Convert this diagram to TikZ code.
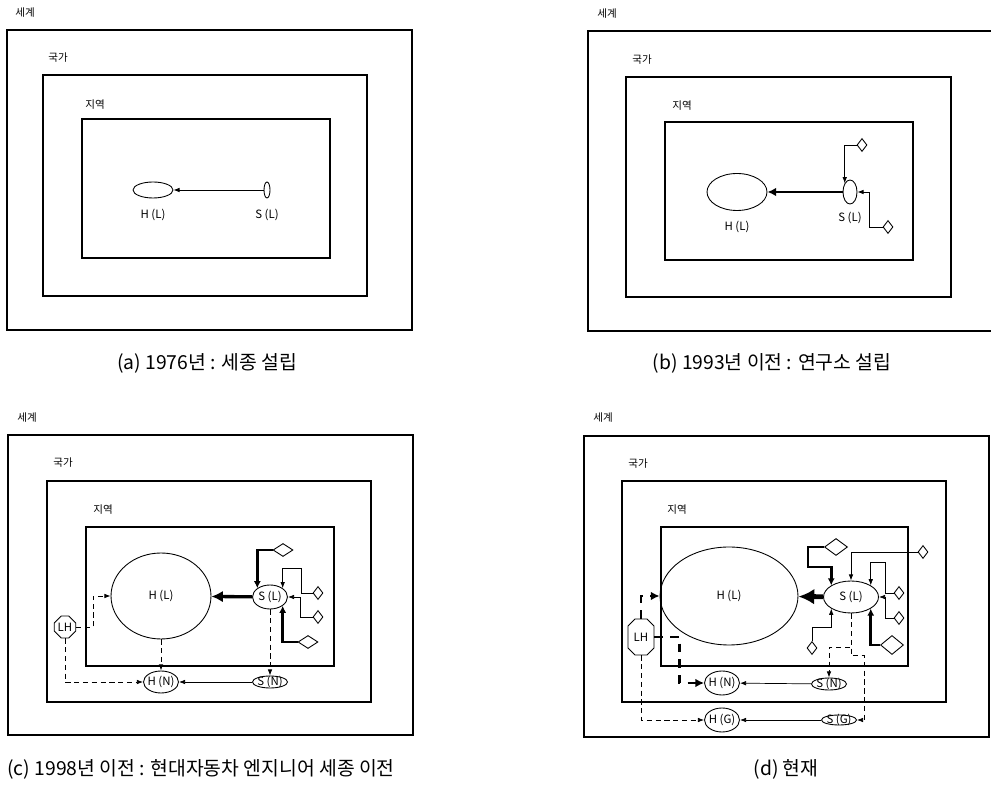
\documentclass[tikz,border=0pt]{standalone}
\usepackage{fontspec}
\newfontfamily\krfont{Noto Sans CJK KR}
\usepackage{tikz}
\usetikzlibrary{shapes.geometric,shapes.misc,arrows.meta,positioning}

\begin{document}
\begin{tikzpicture}[x=0.02cm, y=-0.02cm,
    box/.style={line width=0.6pt},
    area/.style={font=\krfont\fontsize{6}{7}\selectfont, anchor=west, inner sep=0pt},
    caption/.style={font=\krfont\fontsize{11}{13}\selectfont, inner sep=0pt},
    tag/.style={font=\krfont\fontsize{6.5}{7}\selectfont, inner sep=0pt},
    blob/.style 2 args={ellipse, draw, line width=0.5pt, inner sep=0pt, minimum width=#1cm, minimum height=#2cm},
    actor/.style n args={3}{blob={#1}{#2}, label={[tag]center:#3}},
    gem/.style 2 args={diamond, draw, line width=0.5pt, inner sep=0pt, minimum width=#1cm, minimum height=#2cm},
    lhbox/.style 2 args={chamfered rectangle, chamfered rectangle xsep=2pt, chamfered rectangle ysep=2pt, draw, line width=0.5pt, inner sep=0pt, minimum width=#1cm, minimum height=#2cm, tag},
    lnk/.style={-{Latex[length=3.5pt,width=2.6pt]}, line width=0.4pt},
    fat/.style={-{Latex[length=4pt,width=4pt]}, line width=1.5pt},
    thrust/.style 2 args={-{Latex[length=#2pt,width=#2pt]}, line width=#1pt},
    tie/.style={lnk, densely dashed},
    bigtie/.style={-{Latex[length=5pt,width=5pt]}, line width=1.4pt, dash pattern=on 5pt off 4pt}
]
\useasboundingbox (0,0) rectangle (991,786);

% (a) 1976
\draw[box] (7,30) rectangle (412,330);
\draw[box] (43,75) rectangle (367,296);
\draw[box] (82,119) rectangle (330,258);
\node[area] (worldA) at (15,13) {세계};
\node[area] (natA) at (48,58) {국가};
\node[area] (regA) at (85,105) {지역};
\node[blob={0.8}{0.32}] (HLa) at (153,190) {};
\node[blob={0.12}{0.32}] (SLa) at (267,190) {};
\node[tag, below=0.2cm of HLa] (HLaTag) {H (L)};
\node[tag, below=0.2cm of SLa] (SLaTag) {S (L)};
\draw[lnk] (SLa) -- (HLa);
\node[caption] (capA) at (207,363) {(a) 1976년 : 세종 설립};

% (b) before 1993
\draw[box] (991,31) -- (588,31) -- (588,331) -- (991,331);
\draw[box] (626,77) rectangle (951,297);
\draw[box] (665,122) rectangle (913,260);
\node[area] (worldB) at (597,14) {세계};
\node[area] (natB) at (632,60) {국가};
\node[area] (regB) at (672,106) {지역};
\node[blob={1.2}{0.74}] (HLb) at (737,192) {};
\node[blob={0.28}{0.48}] (SLb) at (850,192) {};
\node[tag, below=0.2cm of HLb] (HLbTag) {H (L)};
\node[tag, below=0.14cm of SLb] (SLbTag) {S (L)};
\node[gem={0.2}{0.26}] (Db1) at (862,145) {};
\node[gem={0.2}{0.26}] (Db2) at (888,227) {};
\draw[thrust={1.2}{5}] (SLb) -- (HLb);
\draw[lnk] (Db1.west) -| (SLb.north west);
\draw[lnk] (Db2.west) -- ++(-13,0) |- (SLb.east);
\node[caption] (capB) at (772,363) {(b) 1993년 이전 : 연구소 설립};

% (c) before 1998
\draw[box] (8,435) rectangle (413,735);
\draw[box] (47,481) rectangle (371,702);
\draw[box] (86,527) rectangle (334,666);
\node[area] (worldC) at (17,418) {세계};
\node[area] (natC) at (53,463) {국가};
\node[area] (regC) at (93,510) {지역};
\node[actor={2.0}{1.72}{H (L)}] (HLc) at (161,596) {};
\node[actor={0.7}{0.48}{S (L)}] (SLc) at (270,597) {};
\node[actor={0.7}{0.44}{H (N)}] (HNc) at (161,682) {};
\node[actor={0.7}{0.24}{S (N)}] (SNc) at (270,682) {};
\node[lhbox={0.42}{0.44}] (LHc) at (65,627) {LH};
\node[gem={0.4}{0.26}] (Dc1) at (283,550) {};
\node[gem={0.2}{0.26}] (Dc2) at (318,593) {};
\node[gem={0.2}{0.26}] (Dc3) at (318,617) {};
\node[gem={0.4}{0.26}] (Dc4) at (308,642) {};
\draw[thrust={1.9}{6.5}] (SLc) -- (HLc);
\draw[fat] (Dc1.west) -| (SLc.north west);
\draw[lnk] (Dc2.west) -- ++(-11,0) -- ++(0,-25) -| (SLc.north east);
\draw[lnk] (Dc3.west) -- ++(-12,0) |- (SLc.east);
\draw[fat] (Dc4.west) -| (SLc.south east);
\draw[tie] (LHc.east) -- ++(17,0) |- (HLc.west);
\draw[tie] (LHc.south) |- (HNc.west);
\draw[tie] (HLc) -- (HNc);
\draw[tie] (SLc) -- (SNc);
\draw[lnk] (SNc) -- (HNc);
\node[caption, anchor=west] (capC) at (7,769) {(c) 1998년 이전 : 현대자동차 엔지니어 세종 이전};

% (d) today
\draw[box] (584,436) rectangle (989,737);
\draw[box] (622,481) rectangle (946,702);
\draw[box] (661,527) rectangle (908,666);
\node[area] (worldD) at (593,418) {세계};
\node[area] (natD) at (628,464) {국가};
\node[area] (regD) at (667,510) {지역};
\node[actor={2.76}{1.96}{H (L)}] (HLd) at (729,596) {};
\node[actor={1.1}{0.64}{S (L)}] (SLd) at (851,597) {};
\node[actor={0.7}{0.48}{H (N)}] (HNd) at (722,683) {};
\node[actor={0.7}{0.24}{S (N)}] (SNd) at (829,684) {};
\node[actor={0.7}{0.48}{H (G)}] (HGd) at (722,720) {};
\node[actor={0.7}{0.2}{S (G)}] (SGd) at (839,720) {};
\node[lhbox={0.52}{0.72}] (LHd) at (641,637) {LH};
\node[gem={0.46}{0.34}] (Dd1) at (836,547) {};
\node[gem={0.2}{0.26}] (Dd2) at (923,552) {};
\node[gem={0.2}{0.26}] (Dd3) at (899,593) {};
\node[gem={0.2}{0.26}] (Dd4) at (899,618) {};
\node[gem={0.46}{0.38}] (Dd5) at (892,645) {};
\node[gem={0.2}{0.26}] (Dd6) at (812,648) {};
\draw[thrust={2.8}{9}] (SLd) -- (HLd);
\draw[fat] (Dd1.west) -- ++(-16,0) -- ++(0,20) -| (SLd.north west);
\draw[lnk] (Dd2.west) -| (SLd.north);
\draw[lnk] (Dd3.west) -- ++(-8,0) -- ++(0,-31) -| (SLd.north east);
\draw[lnk] (Dd4.west) -- ++(-8,0) |- (SLd.east);
\draw[fat] (Dd5.west) -| (SLd.south east);
\draw[lnk] (Dd6.north) -- ++(0,-14) -| (SLd.south west);
\draw[tie] (SLd.south) -- ++(0,42) -- ++(13,0) |- (SGd.east);
\draw[tie] (SLd.south) -- ++(0,34) -| (SNd.north);
\draw[bigtie] (LHd.north) |- (HLd.west);
\draw[bigtie] (LHd.east) -- ++(25,0) |- (HNd.west);
\draw[tie] (LHd.south) |- (HGd.west);
\draw[lnk] (SNd) -- (HNd);
\draw[lnk] (SGd) -- (HGd);
\node[caption] (capD) at (786,769) {(d) 현재};

\end{tikzpicture}
\end{document}
